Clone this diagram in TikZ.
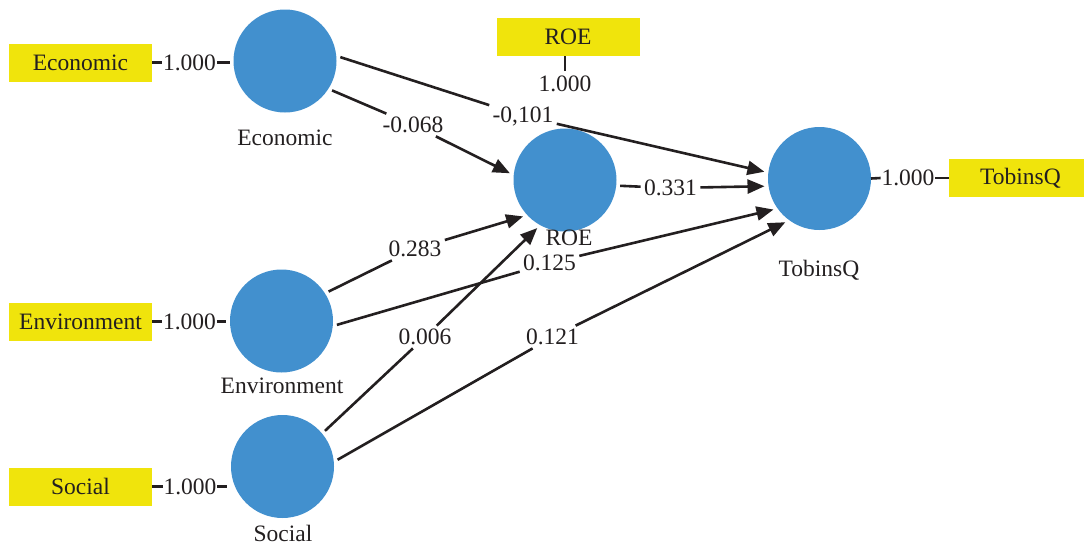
\documentclass[tikz,border=0pt]{standalone}
\usepackage{fontspec}
\setmainfont{Liberation Serif}
\usetikzlibrary{arrows.meta}
\definecolor{lvblue}{HTML}{4290CE}
\definecolor{mvyellow}{HTML}{F0E40C}
\definecolor{ink}{HTML}{231F20}
\begin{document}
\begin{tikzpicture}[x=0.5pt,y=-0.5pt,
  font=\fontsize{11.75}{14}\selectfont, text=ink,
  latent/.style={circle,fill=lvblue,minimum size=51.5pt,inner sep=0pt,outer sep=2pt},
  indicator/.style={rectangle,fill=mvyellow,minimum width=71.5pt,minimum height=19pt,inner sep=0pt},
  coef/.style={inner sep=1.5pt},
  loading/.style={inner sep=0.3pt},
  link/.style={draw=ink,line width=1.3pt},
  patharrow/.style={link,-{Triangle[length=8.5pt,width=7pt]}}]
\useasboundingbox (0,0) rectangle (1084,547);
% latent variables
\node[latent] (eco) at (285,61) {};
\node[latent] (roe) at (565,180) {};
\node[latent] (tq) at (819.5,178.5) {};
\node[latent] (env) at (281.5,321) {};
\node[latent] (soc) at (282.5,466.5) {};
% latent names
\node (ecoN) at (285,138) {Economic};
\node (roeN) at (569,238) {ROE};
\node (tqN) at (819,270) {TobinsQ};
\node (envN) at (282,386) {Environment};
\node (socN) at (283,533) {Social};
% indicators
\node[indicator] (ecoB) at (80.5,62.5) {Economic};
\node[indicator] (roeB) at (568,37) {ROE};
\node[indicator] (tqB) at (1020.5,178) {TobinsQ};
\node[indicator] (envB) at (80.5,321.5) {Environment};
\node[indicator] (socB) at (80.5,486.5) {Social};
% loadings
\node[loading] (ecoL) at (189.5,62.5) {1.000};
\node[loading] (envL) at (189.5,321.5) {1.000};
\node[loading] (socL) at (190,486.5) {1.000};
\node[loading] (roeL) at (565,84) {1.000};
\node[loading] (tqL) at (908,178) {1.000};
\draw[link] (ecoB.east) -- (ecoL.west);
\draw[link] (ecoL.east) -- (ecoL.east -| eco.west);
\draw[link] (envB.east) -- (envL.west);
\draw[link] (envL.east) -- (envL.east -| env.west);
\draw[link] (socB.east) -- (socL.west);
\draw[link] (socL.east) -- (socL.east -| soc.west);
\draw[link] ([xshift=-2pt]tq.east) -- (tqL.west);
\draw[link] (tqL.east) -- (tqB.west);
\draw[link] ([yshift=2pt]roeL.north) -- (roeL.north |- roeB.south);
% path coefficients
\node[coef] (c1) at (523,116) {-0,101};
\node[coef] (c2) at (413,125) {-0.068};
\node[coef] (c3) at (670.5,188) {0.331};
\node[coef] (c4) at (415,249) {0.283};
\node[coef] (c5) at (549.5,263) {0.125};
\node[coef] (c6) at (425,337) {0.006};
\node[coef] (c7) at (552.5,337) {0.121};
\draw[link] (eco.4) -- (c1);   \draw[patharrow] (c1) -- (tq.173);
\draw[link] (eco.-32) -- (c2); \draw[patharrow] (c2) -- (roe.173);
\draw[link] (roe.-6) -- (c3);  \draw[patharrow] (c3) -- (tq.188);
\draw[link] (env.32) -- (c4);  \draw[patharrow] (c4) -- (roe.221);
\draw[link] (env.-4) -- (c5);  \draw[patharrow] (c5) -- (tq.214);
\draw[link] (soc.40) -- (c6);  \draw[patharrow] (c6) -- (roe.240);
\draw[link] (soc.7) -- (c7);   \draw[patharrow] (c7) -- (tq.232);
\end{tikzpicture}
\end{document}
